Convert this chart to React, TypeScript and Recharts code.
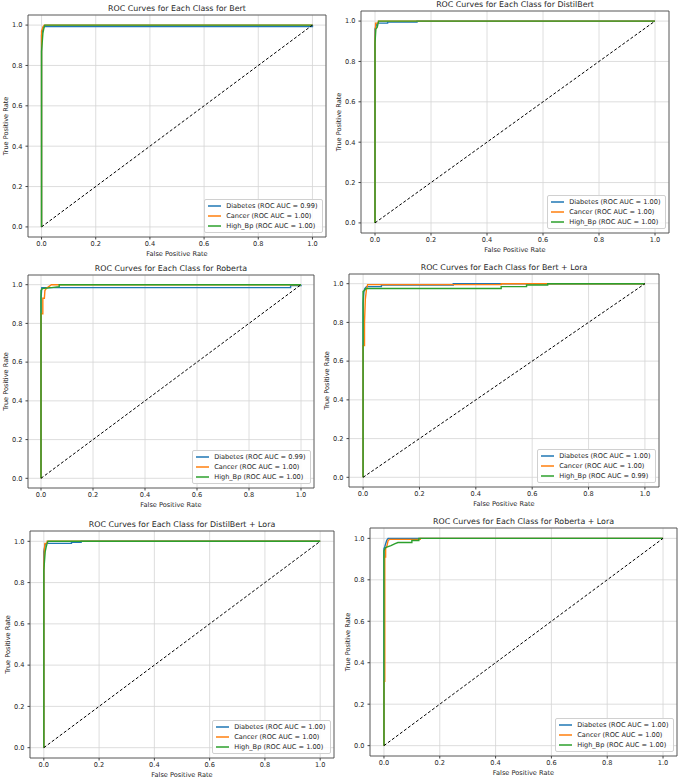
import { LineChart, Line, XAxis, YAxis, CartesianGrid, ReferenceArea, Legend } from 'recharts'

type Pt = { x: number; y: number }

const FONT = '"DejaVu Sans", sans-serif'

const classNames = ['Diabetes', 'Cancer', 'High_Bp']
const classColors = ['#1f77b4', '#ff7f0e', '#2ca02c']
const axisTicks = [0, 0.2, 0.4, 0.6, 0.8, 1.0]
const chanceLine: [number, number][] = [[0, 0], [1, 1]]

// (fpr, tpr) points
const bertDiabetes: [number, number][] = [[0, 0], [0, 0.95], [0.003, 0.97], [0.005, 0.985], [0.008, 0.993], [1, 0.993], [1, 1]]
const bertCancer: [number, number][] = [[0, 0], [0, 0.97], [0.003, 0.98], [0.005, 0.99], [0.01, 1], [1, 1]]
const bertHighBp: [number, number][] = [[0, 0], [0, 0.87], [0.005, 0.96], [0.008, 0.98], [0.012, 1], [1, 1]]

const distilDiabetes: [number, number][] = [[0, 0], [0, 0.96], [0.005, 0.98], [0.01, 0.99], [0.045, 0.99], [0.045, 0.995], [0.15, 0.995], [0.15, 1], [1, 1]]
const distilCancer: [number, number][] = [[0, 0], [0, 0.89], [0.002, 0.99], [0.012, 0.99], [0.012, 1], [1, 1]]
const distilHighBp: [number, number][] = [[0, 0], [0, 0.89], [0.003, 0.96], [0.008, 0.97], [0.013, 1], [1, 1]]

const robertaDiabetes: [number, number][] = [[0, 0], [0, 0.93], [0.003, 0.985], [0.96, 0.985], [0.96, 0.995], [1, 0.995], [1, 1]]
const robertaCancer: [number, number][] = [[0, 0], [0, 0.85], [0.007, 0.85], [0.007, 0.93], [0.013, 0.93], [0.015, 0.97], [0.02, 0.98], [0.03, 0.99], [0.04, 1], [1, 1]]
const robertaHighBp: [number, number][] = [[0, 0], [0, 0.97], [0.005, 0.98], [0.04, 0.985], [0.07, 0.99], [0.07, 1], [1, 1]]

const bertLoraDiabetes: [number, number][] = [[0, 0], [0, 0.9], [0.003, 0.96], [0.006, 0.975], [0.012, 0.985], [0.065, 0.985], [0.065, 0.993], [0.32, 0.993], [0.32, 1], [1, 1]]
const bertLoraCancer: [number, number][] = [[0, 0], [0, 0.68], [0.005, 0.68], [0.005, 0.8], [0.008, 0.92], [0.012, 0.97], [0.016, 0.995], [0.49, 0.995], [0.49, 1], [1, 1]]
const bertLoraHighBp: [number, number][] = [[0, 0], [0, 0.96], [0.005, 0.965], [0.01, 0.975], [0.49, 0.975], [0.49, 0.985], [0.58, 0.985], [0.58, 0.993], [0.655, 0.993], [0.655, 1], [1, 1]]

const distilLoraDiabetes: [number, number][] = [[0, 0], [0, 0.95], [0.003, 0.97], [0.005, 0.985], [0.01, 0.99], [0.1, 0.99], [0.1, 0.995], [0.135, 0.995], [0.135, 1], [1, 1]]
const distilLoraCancer: [number, number][] = [[0, 0], [0, 0.86], [0.002, 0.96], [0.004, 0.99], [0.012, 0.99], [0.012, 1], [1, 1]]
const distilLoraHighBp: [number, number][] = [[0, 0], [0, 0.86], [0.005, 0.95], [0.008, 0.97], [0.012, 0.99], [0.015, 1], [1, 1]]

const robertaLoraDiabetes: [number, number][] = [[0, 0], [0, 0.95], [0.003, 0.96], [0.005, 0.97], [0.01, 0.99], [0.015, 1], [1, 1]]
const robertaLoraCancer: [number, number][] = [[0, 0], [0, 0.31], [0.003, 0.31], [0.003, 0.91], [0.006, 0.91], [0.006, 0.95], [0.01, 0.96], [0.015, 0.99], [0.02, 0.995], [0.13, 0.995], [0.13, 1], [1, 1]]
const robertaLoraHighBp: [number, number][] = [[0, 0], [0, 0.94], [0.005, 0.955], [0.015, 0.96], [0.025, 0.965], [0.04, 0.975], [0.05, 0.98], [0.1, 0.98], [0.1, 0.99], [0.125, 0.99], [0.125, 1], [1, 1]]

const modelNames = ['Bert', 'DistilBert', 'Roberta', 'Bert + Lora', 'DistilBert + Lora', 'Roberta + Lora']
const modelAucs = [
  ['0.99', '1.00', '1.00'],
  ['1.00', '1.00', '1.00'],
  ['0.99', '1.00', '1.00'],
  ['1.00', '1.00', '0.99'],
  ['1.00', '1.00', '1.00'],
  ['1.00', '1.00', '1.00'],
]
const modelCurves = [
  [bertDiabetes, bertCancer, bertHighBp],
  [distilDiabetes, distilCancer, distilHighBp],
  [robertaDiabetes, robertaCancer, robertaHighBp],
  [bertLoraDiabetes, bertLoraCancer, bertLoraHighBp],
  [distilLoraDiabetes, distilLoraCancer, distilLoraHighBp],
  [robertaLoraDiabetes, robertaLoraCancer, robertaLoraHighBp],
]

// plot-area boxes on the page: left, top, right, bottom
const panelBoxes = [
  [28, 15, 326, 237],
  [361, 11, 669, 233],
  [28, 275, 314, 488],
  [349, 274, 659, 487],
  [30, 531, 334, 758],
  [370, 528, 677, 756],
]

const YW = 28
const XH = 22
const MT = 2
const MR = 2

const toPts = (arr: [number, number][]): Pt[] => arr.map(([x, y]) => ({ x, y }))

const tickStyle = { fontSize: 6.6, fill: '#262626', fontFamily: FONT }

function LegendBox({ labels }: { labels: string[] }) {
  return (
    <div
      style={{
        border: '1px solid #d0d0d0',
        borderRadius: 2,
        background: 'rgba(255,255,255,0.85)',
        padding: '1px 4px 1px 3px',
        fontSize: 6.6,
        fontFamily: FONT,
        color: '#262626',
        lineHeight: '10px',
      }}
    >
      {labels.map((label, i) => (
        <div key={label} style={{ display: 'flex', alignItems: 'center', whiteSpace: 'nowrap', height: 10 }}>
          <svg width={13} height={4} style={{ marginRight: 5, display: 'block' }}>
            <line x1={0} x2={13} y1={2} y2={2} stroke={classColors[i]} strokeWidth={1.5} />
          </svg>
          {label}
        </div>
      ))}
    </div>
  )
}

function RocPanel({ idx }: { idx: number }) {
  const [L, T, R, B] = panelBoxes[idx]
  const width = R - L + YW + MR
  const height = B - T + MT + XH
  const labels = classNames.map((c, i) => `${c} (ROC AUC = ${modelAucs[idx][i]})`)
  return (
    <>
      <div
        style={{
          position: 'absolute',
          left: L,
          top: T - 12,
          width: R - L,
          textAlign: 'center',
          fontSize: 7.9,
          fontFamily: FONT,
          color: '#262626',
          lineHeight: '11px',
          whiteSpace: 'nowrap',
        }}
      >
        ROC Curves for Each Class for {modelNames[idx]}
      </div>
      <div style={{ position: 'absolute', left: L - YW, top: T - MT }}>
        <LineChart width={width} height={height} margin={{ top: MT, right: MR, bottom: 0, left: 0 }}>
          <CartesianGrid stroke="#d6d6d6" strokeWidth={0.8} />
          <XAxis
            type="number"
            dataKey="x"
            domain={[-0.05, 1.05]}
            ticks={axisTicks}
            allowDataOverflow
            height={XH}
            tickFormatter={(v: number) => v.toFixed(1)}
            tick={tickStyle}
            tickSize={2.5}
            tickMargin={2}
            axisLine={false}
            tickLine={{ stroke: '#444' }}
            label={{ value: 'False Positive Rate', position: 'insideBottom', offset: 3, fontSize: 6.6, fill: '#262626', fontFamily: FONT }}
          />
          <YAxis
            type="number"
            dataKey="y"
            domain={[-0.05, 1.05]}
            ticks={axisTicks}
            allowDataOverflow
            width={YW}
            tickFormatter={(v: number) => v.toFixed(1)}
            tick={tickStyle}
            tickSize={2.5}
            tickMargin={3}
            axisLine={false}
            tickLine={{ stroke: '#444' }}
            label={{
              value: 'True Positive Rate',
              angle: -90,
              position: 'insideLeft',
              offset: 6,
              fontSize: 6.6,
              fill: '#262626',
              fontFamily: FONT,
              style: { textAnchor: 'middle' },
            }}
          />
          {modelCurves[idx].map((curve, i) => (
            <Line
              key={classNames[i]}
              data={toPts(curve)}
              dataKey="y"
              name={labels[i]}
              type="linear"
              stroke={classColors[i]}
              strokeWidth={1.4}
              dot={false}
              activeDot={false}
              isAnimationActive={false}
            />
          ))}
          <Line
            data={toPts(chanceLine)}
            dataKey="y"
            name="chance"
            type="linear"
            stroke="#000"
            strokeWidth={1}
            strokeDasharray="3 2"
            dot={false}
            activeDot={false}
            legendType="none"
            isAnimationActive={false}
          />
          <ReferenceArea x1={-0.05} x2={1.05} y1={-0.05} y2={1.05} fill="none" stroke="#444" strokeWidth={0.8} />
          <Legend
            layout="vertical"
            align="center"
            verticalAlign="middle"
            content={() => <LegendBox labels={labels} />}
            wrapperStyle={{ left: 'auto', top: 'auto', right: MR + 3.5, bottom: XH + 4.5, width: 'auto', height: 'auto' }}
          />
        </LineChart>
      </div>
    </>
  )
}

export default function App() {
  return (
    <div style={{ position: 'absolute', left: 0, top: 0, width: 678, height: 778, overflow: 'hidden', background: '#fff' }}>
      {modelNames.map((_, i) => (
        <RocPanel key={i} idx={i} />
      ))}
    </div>
  )
}
